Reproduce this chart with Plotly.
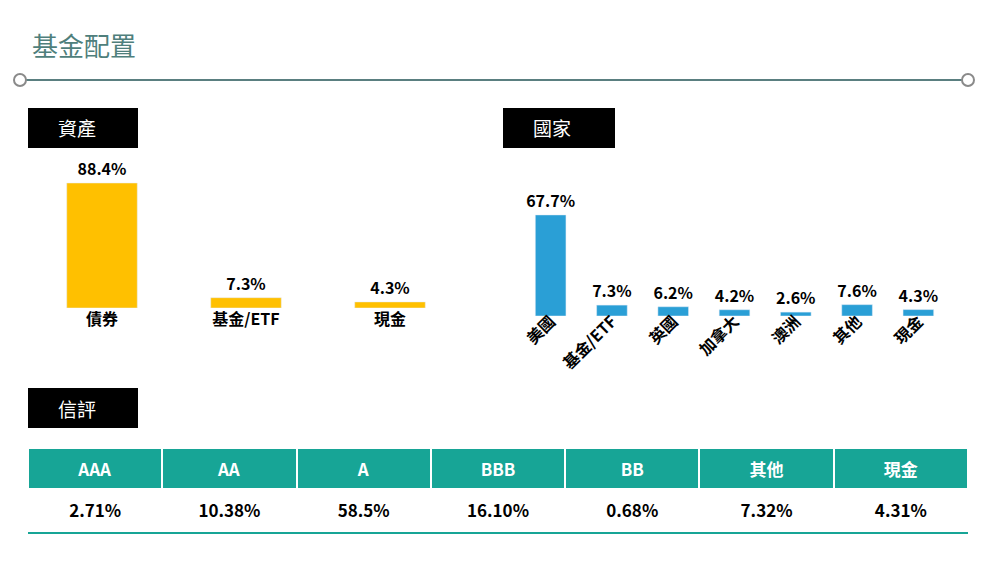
import plotly.graph_objects as go

asset_cats = ["債券", "基金/ETF", "現金"]
asset_vals = [88.4, 7.3, 4.3]
country_cats = ["美國", "基金/ETF", "英國", "加拿大", "澳洲", "其他", "現金"]
country_vals = [67.7, 7.3, 6.2, 4.2, 2.6, 7.6, 4.3]
rating_cats = ["AAA", "AA", "A", "BBB", "BB", "其他", "現金"]
rating_vals = ["2.71%", "10.38%", "58.5%", "16.10%", "0.68%", "7.32%", "4.31%"]

F = "Noto Sans CJK TC, Arial, sans-serif"
W, H = 1000, 568
OFF = 8
def px(x): return (x - OFF) / W
def py(y): return 1 - (y - OFF) / H

fig = go.Figure()
fig.add_trace(go.Bar(x=asset_cats, y=asset_vals, marker_color="#FFC000", width=0.49,
                     text=[f"<b>{v}%</b>" for v in asset_vals], textposition="outside",
                     constraintext="none",
                     textfont=dict(size=16, color="#000"), cliponaxis=False,
                     xaxis="x", yaxis="y"))
fig.add_trace(go.Bar(x=country_cats, y=country_vals, marker_color="#2A9FD6", width=0.5,
                     text=[f"<b>{v}%</b>" for v in country_vals], textposition="outside",
                     constraintext="none",
                     textfont=dict(size=16, color="#000"), cliponaxis=False,
                     xaxis="x2", yaxis="y2"))
fig.add_trace(go.Table(
    domain=dict(x=[px(28), px(968)], y=[py(540), py(448)]),
    columnwidth=[1] * 7,
    header=dict(values=[f"<b>{c}</b>" for c in rating_cats], fill_color="#17A596",
                line=dict(color="white", width=2), height=37,
                font=dict(family=F, size=17, color="white"), align="center"),
    cells=dict(values=[[f"<b>{v}</b>"] for v in rating_vals], fill_color="white",
               line=dict(color="white", width=0), height=48,
               font=dict(family=F, size=17, color="#000"), align="center")))

fig.update_layout(
    width=W, height=H, margin=dict(l=0, r=0, t=0, b=0), showlegend=False,
    paper_bgcolor="white", plot_bgcolor="white", font=dict(family=F),
    xaxis=dict(domain=[px(30), px(462)], tickfont=dict(size=16, color="#000"),
               tickprefix="<b>", ticksuffix="</b>",
               showline=False, showgrid=False, ticks="", tickangle=0, fixedrange=True),
    yaxis=dict(domain=[py(308), py(170)], range=[0, 97.6], visible=False),
    xaxis2=dict(domain=[px(520), px(949)], tickfont=dict(size=16, color="#000"),
                tickprefix="<b>", ticksuffix="</b>",
                showline=False, showgrid=False, ticks="", tickangle=-45),
    yaxis2=dict(domain=[py(316), py(200)], range=[0, 77.7], visible=False),
)

anns = [dict(x=px(30), y=py(45), xref="paper", yref="paper", text="基金配置", showarrow=False,
             xanchor="left", yanchor="middle", font=dict(size=26, color="#4F7F7C", family=F))]
shapes = [
    dict(type="line", xref="paper", yref="paper", x0=px(26), x1=px(962), y0=py(80), y1=py(80),
         line=dict(color="#5A7F80", width=2)),
    dict(type="circle", xref="paper", yref="paper", x0=px(14), x1=px(26), y0=py(86), y1=py(74),
         line=dict(color="#8A8A8A", width=2), fillcolor="white"),
    dict(type="circle", xref="paper", yref="paper", x0=px(962), x1=px(974), y0=py(86), y1=py(74),
         line=dict(color="#8A8A8A", width=2), fillcolor="white"),
    dict(type="line", xref="paper", yref="paper", x0=px(28), x1=px(968), y0=py(533), y1=py(533),
         line=dict(color="#17A596", width=2)),
]
for label, x0, x1, y0, y1 in [("資產", 28, 138, 108, 148), ("國家", 503, 615, 108, 148),
                              ("信評", 28, 138, 388, 428)]:
    shapes.append(dict(type="rect", xref="paper", yref="paper", x0=px(x0), x1=px(x1),
                       y0=py(y1), y1=py(y0), fillcolor="#000", line=dict(width=0)))
    anns.append(dict(x=px(x0 + 28), y=py((y0 + y1) / 2), xref="paper", yref="paper",
                     text=label, showarrow=False, xanchor="left", yanchor="middle",
                     font=dict(size=19, color="white", family=F)))
fig.update_layout(annotations=anns, shapes=shapes)
fig.write_html("out.html")
